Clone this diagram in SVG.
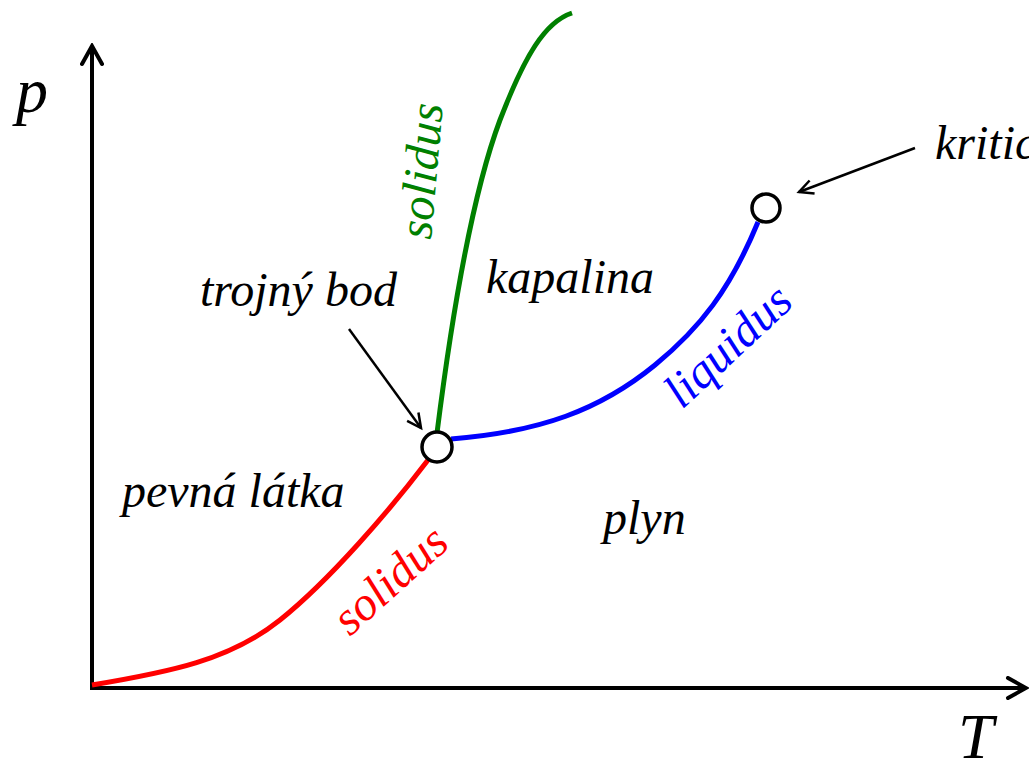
<svg xmlns="http://www.w3.org/2000/svg" width="1029" height="767" viewBox="0 0 1029 767">
<style>
.axis{stroke:#000;stroke-width:4;fill:none;}
.curve{fill:none;stroke-width:5;}
.pt{fill:#fff;stroke:#000;stroke-width:3.5;}
.ptr{stroke:#000;stroke-width:2.5;fill:none;}
</style>
<defs>
<marker id="ah" viewBox="0 0 20 20" refX="17" refY="10" markerWidth="20" markerHeight="20" markerUnits="userSpaceOnUse" orient="auto">
<path d="M3,3 L17,10 L3,17" fill="none" stroke="#000" stroke-width="2.5"/>
</marker>
<marker id="axh" viewBox="0 0 24 24" refX="21" refY="12" markerWidth="24" markerHeight="24" markerUnits="userSpaceOnUse" orient="auto">
<path d="M3,2 L21,12 L3,22" fill="none" stroke="#000" stroke-width="4" stroke-linecap="round"/>
</marker>
</defs>
<g id="axes">
<line class="axis" x1="92" y1="690" x2="92" y2="46" marker-end="url(#axh)"/>
<line class="axis" x1="90" y1="688" x2="1026" y2="688" marker-end="url(#axh)"/>
</g>
<text x="16" y="112" font-family="Liberation Serif" font-style="italic" font-size="64" style="font-family:'Liberation Serif',serif !important;font-style:italic !important;font-size:64px">p</text>
<text x="958" y="758" font-family="Liberation Serif" font-style="italic" font-size="64" style="font-family:'Liberation Serif',serif !important;font-style:italic !important;font-size:64px">T</text>
<g id="connectors">
<path id="red-curve" class="curve" stroke="#ff0000" d="M92,685 C170,672 230,660 280,620 C330,580 390,510 428,460"/>
<path id="green-curve" class="curve" stroke="#008000" d="M437,433 C450,330 470,200 500,120 C525,55 545,22 572,13"/>
<path id="blue-curve" class="curve" stroke="#0000ff" d="M451,439 C540,432 600,410 655,365 C700,328 730,290 758,222"/>
<line class="ptr" x1="915" y1="148" x2="799" y2="192" marker-end="url(#ah)"/>
<line class="ptr" x1="349" y1="329" x2="421" y2="428" marker-end="url(#ah)"/>
</g>
<g id="triple-point"><circle class="pt" cx="437" cy="447" r="15"/></g>
<g id="critical-point"><circle class="pt" cx="766" cy="208" r="14"/></g>
<text x="200" y="306" font-family="Liberation Serif" font-style="italic" font-size="48" style="font-family:'Liberation Serif',serif !important;font-style:italic !important;font-size:48px">trojný bod</text>
<text x="486" y="293" font-family="Liberation Serif" font-style="italic" font-size="48" style="font-family:'Liberation Serif',serif !important;font-style:italic !important;font-size:48px">kapalina</text>
<text x="122" y="507" font-family="Liberation Serif" font-style="italic" font-size="48" style="font-family:'Liberation Serif',serif !important;font-style:italic !important;font-size:48px">pevná látka</text>
<text x="603" y="534" font-family="Liberation Serif" font-style="italic" font-size="48" style="font-family:'Liberation Serif',serif !important;font-style:italic !important;font-size:48px">plyn</text>
<text x="935" y="159" font-family="Liberation Serif" font-style="italic" font-size="48" style="font-family:'Liberation Serif',serif !important;font-style:italic !important;font-size:48px">kritický bod</text>
<text fill="#008000" transform="translate(431,240) rotate(-85)" font-family="Liberation Serif" font-style="italic" font-size="48" style="font-family:'Liberation Serif',serif !important;font-style:italic !important;font-size:48px">solidus</text>
<text fill="#0000ff" transform="translate(682,410) rotate(-43)" font-family="Liberation Serif" font-style="italic" font-size="48" style="font-family:'Liberation Serif',serif !important;font-style:italic !important;font-size:48px">liquidus</text>
<text fill="#ff0000" transform="translate(350,637) rotate(-42)" font-family="Liberation Serif" font-style="italic" font-size="48" style="font-family:'Liberation Serif',serif !important;font-style:italic !important;font-size:48px">solidus</text>
</svg>
